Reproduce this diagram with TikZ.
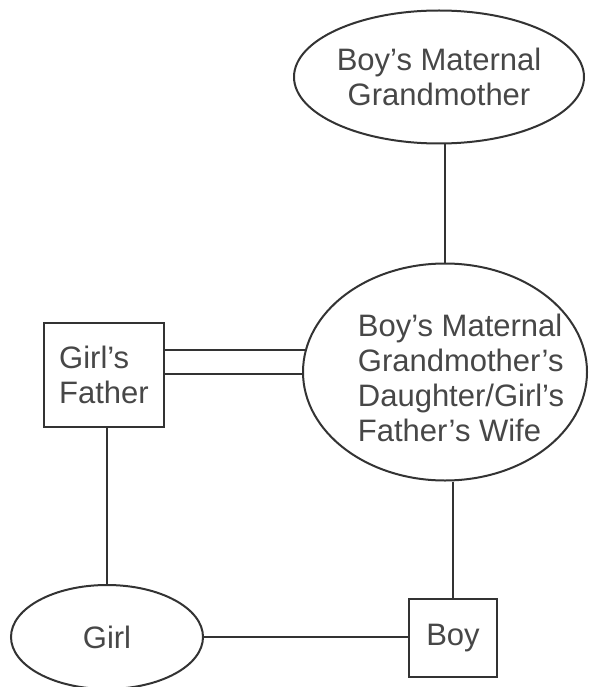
\documentclass[tikz,border=0pt]{standalone}
\usepackage{fontspec}
\setmainfont{Liberation Sans}
\usetikzlibrary{shapes.geometric}
\begin{document}
\begin{tikzpicture}[x=1pt,y=-1pt,
  every node/.style={text=black!72, font=\fontsize{31}{35}\selectfont},
  person/.style={draw=black!80, line width=2pt, fill=white, inner sep=0pt},
  oval/.style={person, ellipse},
  box/.style={person, rectangle},
  tie/.style={draw=black!80, line width=2pt}]
\useasboundingbox (0,0) rectangle (589,687);

% people
\node[oval, minimum width=290, minimum height=133, align=center] (gm) at (439,77)
  {Boy’s Maternal\\Grandmother};
\node[oval, minimum width=284, minimum height=217] (mid) at (445,372) {};
\node[align=left] (midtxt) at (461,378)
  {Boy’s Maternal\\Grandmother’s\\Daughter/Girl’s\\Father’s Wife};
\node[box, minimum width=120, minimum height=104, align=left] (gf) at (104,375)
  {Girl’s\\Father};
\node[oval, minimum width=192, minimum height=104] (girl) at (107,637) {Girl};
\node[box, minimum width=88, minimum height=78] (boy) at (453,638) {Boy};

% lines of descent
\draw[tie] (gm.south -| mid.north) -- (mid.north);
\draw[tie] (boy.north |- mid.south) -- (boy.north);
\draw[tie] (gf.south -| girl.north) -- (girl.north);
\draw[tie] (girl.east) -- (boy.west |- girl.east);

% marriage (double line)
\draw[tie] (gf.east |- mid.171.6) -- (mid.171.6);
\draw[tie] (gf.east |- mid.181.8) -- (mid.181.8);
\end{tikzpicture}
\end{document}
